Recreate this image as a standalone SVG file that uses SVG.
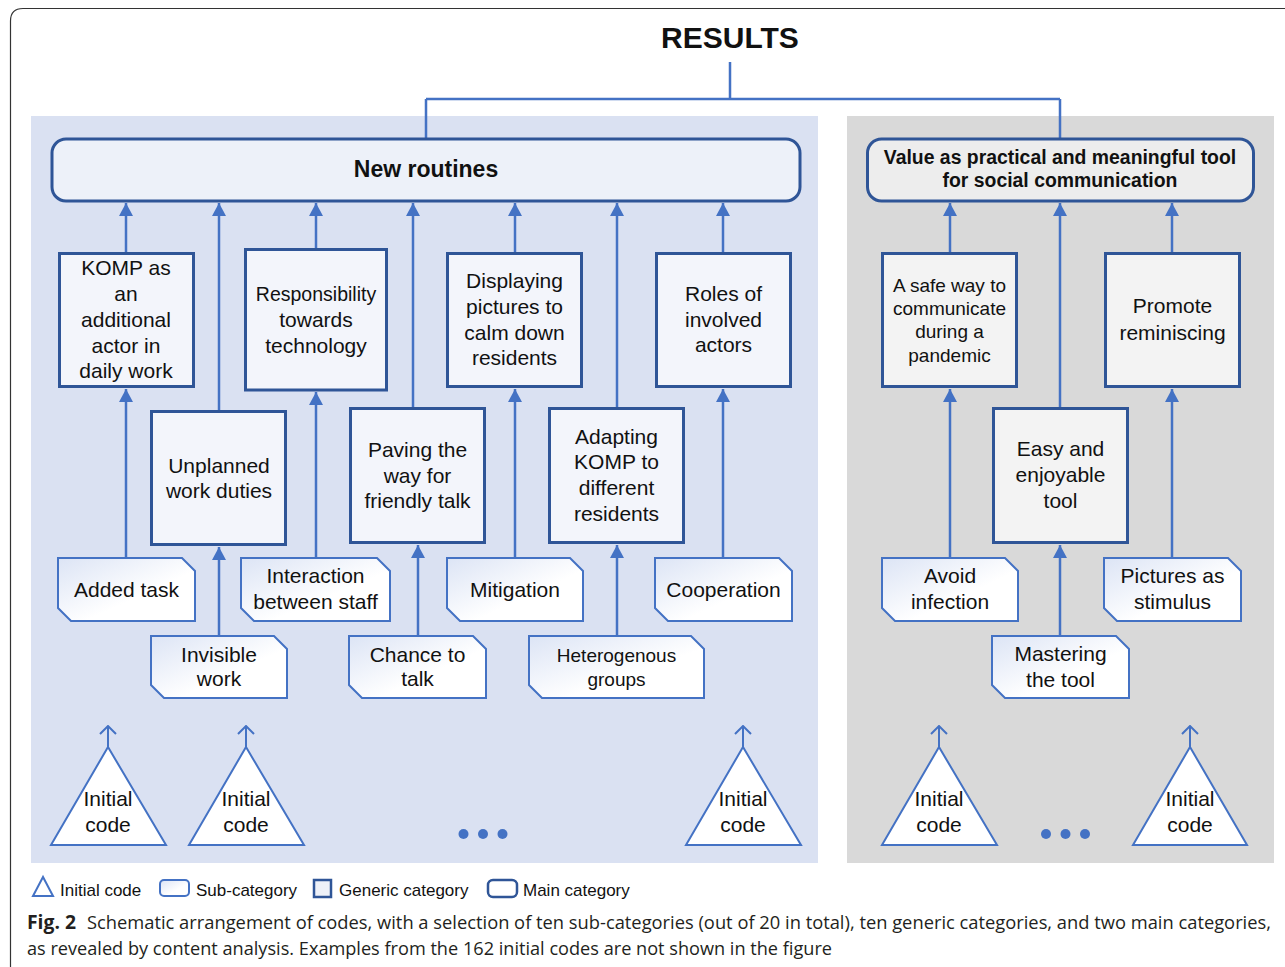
<svg xmlns="http://www.w3.org/2000/svg" width="1285" height="967" viewBox="0 0 1285 967">
<defs>
<style>
.t{font-family:"Liberation Sans",Arial,sans-serif;fill:#111;text-anchor:middle}
.f21{font-size:21px}
.f19{font-size:19px}
.b{font-weight:bold}
.gen{fill:#F3F5FB;stroke:#2F5597;stroke-width:3}
.genR{fill:#F3F3F3;stroke:#2F5597;stroke-width:3}
.sub{fill:url(#sg);stroke:#4472C4;stroke-width:2}
.tri{fill:#fff;stroke:#4472C4;stroke-width:2}
.c{stroke:#4472C4;stroke-width:2.5;fill:none}
.ca{stroke:#4472C4;stroke-width:2.5;fill:none;marker-end:url(#ah)}
.co{stroke:#4472C4;stroke-width:2;fill:none;marker-end:url(#oh)}
.cap{font-family:"Open Sans","Noto Sans",sans-serif;font-size:19px;fill:#231F20}
.lg{font-family:"Liberation Sans",Arial,sans-serif;font-size:17px;fill:#111}
</style>
<linearGradient id="sg" x1="0" y1="0" x2="1" y2="1">
<stop offset="0" stop-color="#DCE4F5"/>
<stop offset="0.6" stop-color="#FFFFFF"/>
</linearGradient>
<marker id="ah" viewBox="0 0 13 14" refX="13" refY="7" markerWidth="13" markerHeight="14" markerUnits="userSpaceOnUse" orient="auto">
<path d="M0,0 L13,7 L0,14 Z" fill="#4472C4"/>
</marker>
<marker id="oh" viewBox="0 0 10 18" refX="9" refY="9" markerWidth="10" markerHeight="18" markerUnits="userSpaceOnUse" orient="auto">
<path d="M1,1 L9,9 L1,17" fill="none" stroke="#4472C4" stroke-width="2"/>
</marker>
</defs>

<rect x="0" y="0" width="1285" height="967" fill="#fff"/>
<path d="M10.5,967 V21 Q10.5,8.5 23,8.5 H1290" fill="none" stroke="#333" stroke-width="1.2"/>

<g id="panel-left"><rect x="31" y="116" width="787" height="747" fill="#DAE1F2"/></g>
<g id="panel-right"><rect x="847" y="116" width="427" height="747" fill="#D9D9D9"/></g>

<g id="title"><text class="t b" x="730" y="48" style="font-size:30px">RESULTS</text></g>

<g id="connectors">
<path class="c" d="M730,62 V99 M426,99 H1060 M426,99 V138 M1060,99 V138"/>
<path class="ca" d="M126,252 V203"/>
<path class="ca" d="M219,410 V203"/>
<path class="ca" d="M316,248 V203"/>
<path class="ca" d="M413,407 V203"/>
<path class="ca" d="M515,252 V203"/>
<path class="ca" d="M617,407 V203"/>
<path class="ca" d="M723,252 V203"/>
<path class="ca" d="M950,252 V203"/>
<path class="ca" d="M1060,407 V203"/>
<path class="ca" d="M1172,252 V203"/>
<path class="ca" d="M126,558 V389"/>
<path class="ca" d="M219,636 V547"/>
<path class="ca" d="M316,558 V392"/>
<path class="ca" d="M418,636 V545"/>
<path class="ca" d="M515,558 V389"/>
<path class="ca" d="M617,636 V545"/>
<path class="ca" d="M723,558 V389"/>
<path class="ca" d="M950,558 V389"/>
<path class="ca" d="M1060,636 V545"/>
<path class="ca" d="M1172,558 V389"/>
<path class="co" d="M108,747 V726"/>
<path class="co" d="M246,747 V726"/>
<path class="co" d="M743,747 V726"/>
<path class="co" d="M939,747 V726"/>
<path class="co" d="M1190,747 V726"/>
</g>

<g id="main-new-routines">
<rect x="52" y="139" width="748" height="62" rx="14" fill="#EDF1F9" stroke="#2F5597" stroke-width="3"/>
<text class="t b" x="426" y="177" style="font-size:23px">New routines</text>
</g>
<g id="main-value">
<rect x="867.5" y="139" width="386" height="62" rx="14" fill="#EDEDED" stroke="#2F5597" stroke-width="3"/>
<text class="t b" x="1060" y="163.5" style="font-size:19.4px">Value as practical and meaningful tool</text>
<text class="t b" x="1060" y="187" style="font-size:19.4px">for social communication</text>
</g>

<g id="gen-komp">
<rect class="gen" x="59.5" y="253.5" width="134" height="133"/>
<text class="t f21" x="126" y="274.5">KOMP as</text>
<text class="t f21" x="126" y="300.5">an</text>
<text class="t f21" x="126" y="326.5">additional</text>
<text class="t f21" x="126" y="352.5">actor in</text>
<text class="t f21" x="126" y="378">daily work</text>
</g>
<g id="gen-unplanned">
<rect class="gen" x="151.5" y="411.5" width="134" height="133"/>
<text class="t f21" x="219" y="472.5">Unplanned</text>
<text class="t f21" x="219" y="498">work duties</text>
</g>
<g id="gen-responsibility">
<rect class="gen" x="245.5" y="249.5" width="141" height="140.5"/>
<text class="t" x="316" y="301" style="font-size:19.5px">Responsibility</text>
<text class="t f21" x="316" y="326.5">towards</text>
<text class="t f21" x="316" y="352.5">technology</text>
</g>
<g id="gen-paving">
<rect class="gen" x="350.5" y="408.5" width="134" height="134"/>
<text class="t f21" x="417.5" y="456.5">Paving the</text>
<text class="t f21" x="417.5" y="482.5">way for</text>
<text class="t f21" x="417.5" y="508">friendly talk</text>
</g>
<g id="gen-displaying">
<rect class="gen" x="447.5" y="253.5" width="134" height="133"/>
<text class="t f21" x="514.5" y="288">Displaying</text>
<text class="t f21" x="514.5" y="314">pictures to</text>
<text class="t f21" x="514.5" y="339.5">calm down</text>
<text class="t f21" x="514.5" y="365">residents</text>
</g>
<g id="gen-adapting">
<rect class="gen" x="549.5" y="408.5" width="134" height="134"/>
<text class="t f21" x="616.5" y="443.5">Adapting</text>
<text class="t f21" x="616.5" y="469">KOMP to</text>
<text class="t f21" x="616.5" y="494.5">different</text>
<text class="t f21" x="616.5" y="520.5">residents</text>
</g>
<g id="gen-roles">
<rect class="gen" x="656.5" y="253.5" width="134" height="133"/>
<text class="t f21" x="723.5" y="300.5">Roles of</text>
<text class="t f21" x="723.5" y="326.5">involved</text>
<text class="t f21" x="723.5" y="352">actors</text>
</g>
<g id="gen-safe">
<rect class="genR" x="882.5" y="253.5" width="134" height="133"/>
<text class="t f19" x="949.5" y="291.5">A safe way to</text>
<text class="t f19" x="949.5" y="315">communicate</text>
<text class="t f19" x="949.5" y="338">during a</text>
<text class="t f19" x="949.5" y="361.5">pandemic</text>
</g>
<g id="gen-easy">
<rect class="genR" x="993.5" y="408.5" width="134" height="134"/>
<text class="t f21" x="1060.5" y="455.5">Easy and</text>
<text class="t f21" x="1060.5" y="482">enjoyable</text>
<text class="t f21" x="1060.5" y="508">tool</text>
</g>
<g id="gen-promote">
<rect class="genR" x="1105.5" y="253.5" width="134" height="133"/>
<text class="t f21" x="1172.5" y="313">Promote</text>
<text class="t f21" x="1172.5" y="339.5">reminiscing</text>
</g>

<g id="sub-added">
<path class="sub" d="M58,558 H182 L195,571 V621 H71 L58,608 Z"/>
<text class="t f21" x="126.5" y="596.5">Added task</text>
</g>
<g id="sub-interaction">
<path class="sub" d="M241,558 H377 L390,571 V621 H254 L241,608 Z"/>
<text class="t f21" x="315.5" y="583">Interaction</text>
<text class="t f21" x="315.5" y="609">between staff</text>
</g>
<g id="sub-invisible">
<path class="sub" d="M151,636 H274 L287,649 V698 H164 L151,685 Z"/>
<text class="t f21" x="219" y="661.5">Invisible</text>
<text class="t f21" x="219" y="686">work</text>
</g>
<g id="sub-chance">
<path class="sub" d="M349,636 H473 L486,649 V698 H362 L349,685 Z"/>
<text class="t f21" x="417.5" y="661.5">Chance to</text>
<text class="t f21" x="417.5" y="686">talk</text>
</g>
<g id="sub-mitigation">
<path class="sub" d="M447,558 H570 L583,571 V621 H460 L447,608 Z"/>
<text class="t f21" x="515" y="596.5">Mitigation</text>
</g>
<g id="sub-heterogenous">
<path class="sub" d="M529,636 H691 L704,649 V698 H542 L529,685 Z"/>
<text class="t f19" x="616.5" y="661.5">Heterogenous</text>
<text class="t f19" x="616.5" y="686">groups</text>
</g>
<g id="sub-cooperation">
<path class="sub" d="M655,558 H779 L792,571 V621 H668 L655,608 Z"/>
<text class="t f21" x="723.5" y="596.5">Cooperation</text>
</g>
<g id="sub-avoid">
<path class="sub" d="M882,558 H1005 L1018,571 V621 H895 L882,608 Z"/>
<text class="t f21" x="950" y="583">Avoid</text>
<text class="t f21" x="950" y="609">infection</text>
</g>
<g id="sub-pictures">
<path class="sub" d="M1104,558 H1228 L1241,571 V621 H1117 L1104,608 Z"/>
<text class="t f21" x="1172.5" y="583">Pictures as</text>
<text class="t f21" x="1172.5" y="609">stimulus</text>
</g>
<g id="sub-mastering">
<path class="sub" d="M992,636 H1116 L1129,649 V698 H1005 L992,685 Z"/>
<text class="t f21" x="1060.5" y="661">Mastering</text>
<text class="t f21" x="1060.5" y="686.5">the tool</text>
</g>

<g id="code-1">
<polygon class="tri" points="108,747 51,845 166,845"/>
<text class="t f21" x="108" y="806">Initial</text>
<text class="t f21" x="108" y="832">code</text>
</g>
<g id="code-2">
<polygon class="tri" points="246,747 189,845 304,845"/>
<text class="t f21" x="246" y="806">Initial</text>
<text class="t f21" x="246" y="832">code</text>
</g>
<g id="code-3">
<polygon class="tri" points="743,747 686,845 801,845"/>
<text class="t f21" x="743" y="806">Initial</text>
<text class="t f21" x="743" y="832">code</text>
</g>
<g id="code-4">
<polygon class="tri" points="939,747 882,845 997,845"/>
<text class="t f21" x="939" y="806">Initial</text>
<text class="t f21" x="939" y="832">code</text>
</g>
<g id="code-5">
<polygon class="tri" points="1190,747 1133,845 1247,845"/>
<text class="t f21" x="1190" y="806">Initial</text>
<text class="t f21" x="1190" y="832">code</text>
</g>

<g id="dots-left" fill="#4472C4">
<circle cx="463.5" cy="834" r="5"/><circle cx="483" cy="834" r="5"/><circle cx="502.5" cy="834" r="5"/>
</g>
<g id="dots-right" fill="#4472C4">
<circle cx="1046" cy="834" r="5"/><circle cx="1065.5" cy="834" r="5"/><circle cx="1085" cy="834" r="5"/>
</g>

<g id="legend">
<polygon points="43,877 33,896 53,896" fill="#fff" stroke="#4472C4" stroke-width="2"/>
<text class="lg" x="60" y="896">Initial code</text>
<rect x="160" y="880" width="29" height="16" rx="4" fill="url(#sg)" stroke="#4472C4" stroke-width="2"/>
<text class="lg" x="196" y="896">Sub-category</text>
<rect x="314" y="880" width="17" height="17" fill="#EEF1F8" stroke="#2F5597" stroke-width="2.5"/>
<text class="lg" x="339" y="896">Generic category</text>
<rect x="488" y="880" width="29" height="17" rx="5" fill="#fff" stroke="#2F5597" stroke-width="2.5"/>
<text class="lg" x="523" y="896">Main category</text>
</g>

<g id="caption">
<text class="cap" x="27" y="929" style="font-weight:bold" textLength="49" lengthAdjust="spacingAndGlyphs">Fig. 2</text>
<text class="cap" x="87" y="929" textLength="1184" lengthAdjust="spacingAndGlyphs">Schematic arrangement of codes, with a selection of ten sub-categories (out of 20 in total), ten generic categories, and two main categories,</text>
<text class="cap" x="27" y="955" textLength="805" lengthAdjust="spacingAndGlyphs">as revealed by content analysis. Examples from the 162 initial codes are not shown in the figure</text>
</g>
</svg>
